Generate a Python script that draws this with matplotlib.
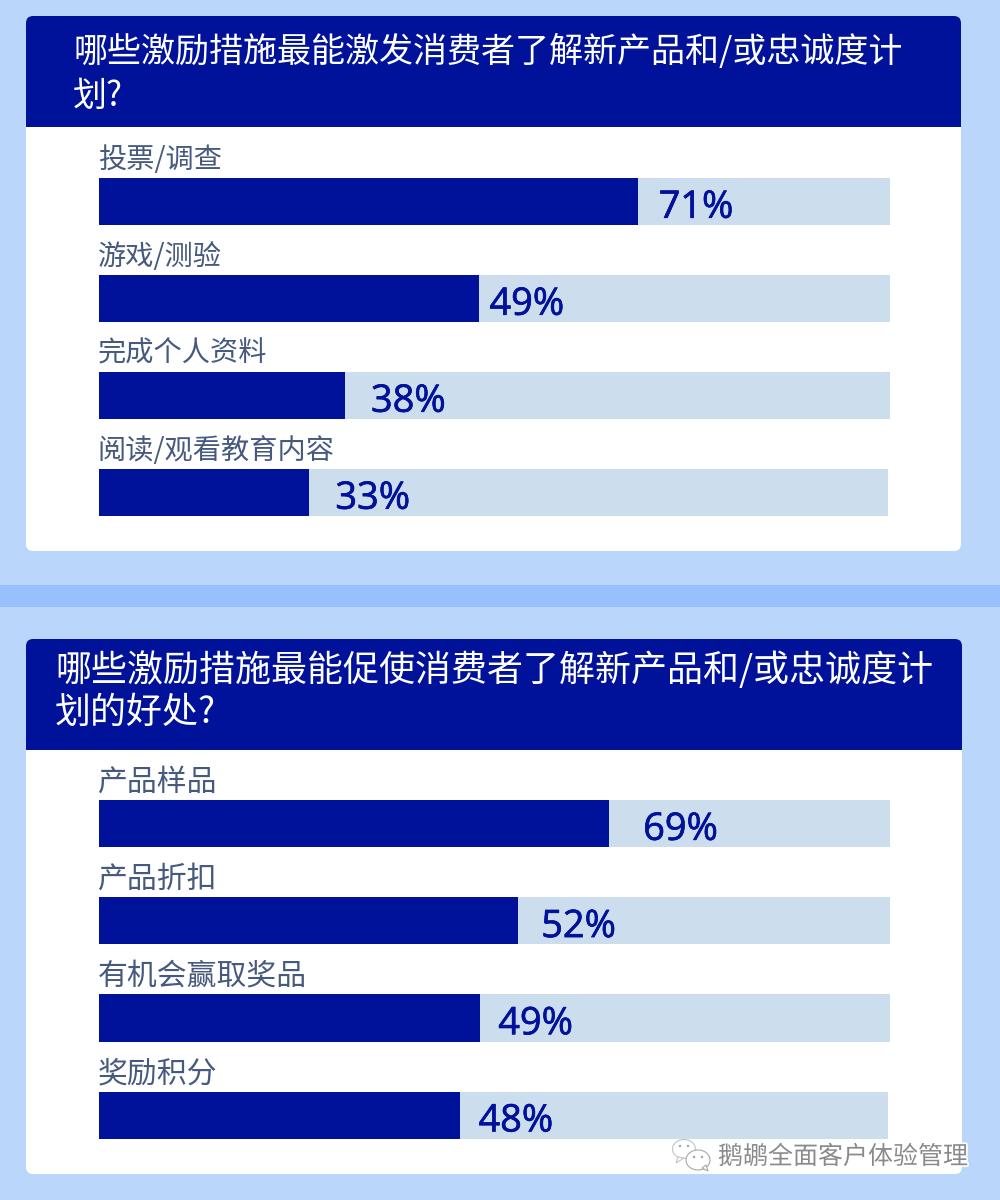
import matplotlib
matplotlib.use("Agg")
import matplotlib.pyplot as plt
import matplotlib.patheffects as pe
from matplotlib.patches import FancyBboxPatch, Rectangle, Ellipse, Polygon

plt.rcParams["font.family"] = ["Noto Sans CJK SC", "DejaVu Sans"]

W, H = 1000, 1200

# Data
title_1 = "哪些激励措施最能激发消费者了解新产品和/或忠诚度计\n划?"
labels_1 = ["投票/调查", "游戏/测验", "完成个人资料", "阅读/观看教育内容"]
values_1 = [71, 49, 38, 33]
# the bars in the picture are not to scale with their labels, so lengths are read separately
lengths_1 = [68.1, 48.1, 31.1, 26.6]
tracks_1 = [100, 100, 100, 99.75]

title_2 = "哪些激励措施最能促使消费者了解新产品和/或忠诚度计\n划的好处?"
labels_2 = ["产品样品", "产品折扣", "有机会赢取奖品", "奖励积分"]
values_2 = [69, 52, 49, 48]
lengths_2 = [64.5, 53.0, 48.2, 45.7]
tracks_2 = [100, 100, 100, 99.75]

watermark = "鹅鹕全面客户体验管理"

# Layout
BG = "#BAD6FB"
BAND = "#98C0FC"
NAVY = "#00129A"
TRACK = "#CCDDEE"
LABEL = "#46597F"
gaps_1 = [21, 10, 26, 26]
gaps_2 = [34, 23, 18, 18]

fig = plt.figure(figsize=(10, 12), dpi=100, facecolor=BG)
bg = fig.add_axes([0, 0, 1, 1])
bg.set_xlim(0, W)
bg.set_ylim(H, 0)
bg.axis("off")

bg.add_patch(Rectangle((0, 585), W, 22, color=BAND, lw=0))


def card(x0, x1, y0, y1, head_y, title, title_x, title_ys, title_size):
    bg.add_patch(FancyBboxPatch((x0 + 7, y0 + 7), x1 - x0 - 14, y1 - y0 - 14,
                                boxstyle="round,pad=7,rounding_size=7",
                                fc="white", ec="none"))
    bg.add_patch(FancyBboxPatch((x0 + 7, y0 + 7), x1 - x0 - 14, head_y - y0 - 14,
                                boxstyle="round,pad=7,rounding_size=7",
                                fc=NAVY, ec="none"))
    bg.add_patch(Rectangle((x0, head_y - 12), x1 - x0, 12, color=NAVY, lw=0))
    for line, y in zip(title.split("\n"), title_ys):
        bg.text(title_x, y, line, color="white", fontsize=title_size,
                va="center", ha="left")


card(26, 961, 16, 551, 127, title_1, 73, [52, 96], 24.5)
card(26, 962, 639, 1174, 750, title_2, 55, [670, 713], 25.9)


def panel(left, top, pitch, labels, values, lengths, tracks, gaps, label_size):
    width = 791
    height = pitch * 4
    ax = fig.add_axes([left / W, 1 - (top + height) / H, width / W, height / H])
    ax.patch.set_alpha(0)
    ax.set_xlim(0, 100)
    ax.set_ylim(3.5, -0.5)
    ax.axis("off")
    y = list(range(len(labels)))
    ax.barh(y, tracks, height=0.485, color=TRACK, lw=0)
    ax.barh(y, lengths, height=0.485, color=NAVY, lw=0)
    for i, lab in enumerate(labels):
        ax.annotate(lab, (0, i), xytext=(-1, 30),
                    textcoords="offset points", color=LABEL,
                    fontsize=label_size, va="center", ha="left")
        ax.annotate(f"{values[i]}%", (lengths[i], i),
                    xytext=(gaps[i] * 0.72, -4.5), textcoords="offset points",
                    color=NAVY, fontsize=27.3, family="Open Sans",
                    va="center", ha="left",
                    path_effects=[pe.withStroke(linewidth=0.5, foreground=NAVY)])


panel(99, 153, 97, labels_1, values_1, lengths_1, tracks_1, gaps_1, 20.3)
panel(99, 775, 97.2, labels_2, values_2, lengths_2, tracks_2, gaps_2, 21.5)

# WeChat style watermark
shadow = [pe.withStroke(linewidth=2.5, foreground="white")]
bg.text(718, 1157, watermark, color="#8A8A8A", fontsize=18, va="center",
        ha="left", path_effects=shadow)
bg.add_patch(Ellipse((684, 1149), 23, 19, fc="white", ec="#C4C4C4", lw=0.8))
bg.add_patch(Polygon([(678, 1157), (676, 1163), (684, 1158)], fc="white", ec="#C4C4C4", lw=0.8))
bg.add_patch(Ellipse((698, 1160), 24, 20, fc="white", ec="#A8A8A8", lw=0.8))
bg.add_patch(Polygon([(702, 1168), (708, 1171), (706, 1165)], fc="white", ec="#A8A8A8", lw=0.8))
for cx, cy in [(680, 1146), (688, 1146), (694, 1157), (702, 1157)]:
    bg.add_patch(Ellipse((cx, cy), 2.5, 2.5, fc="#A8A8A8", ec="none"))

fig.savefig("out.png", dpi=100, facecolor=BG)
